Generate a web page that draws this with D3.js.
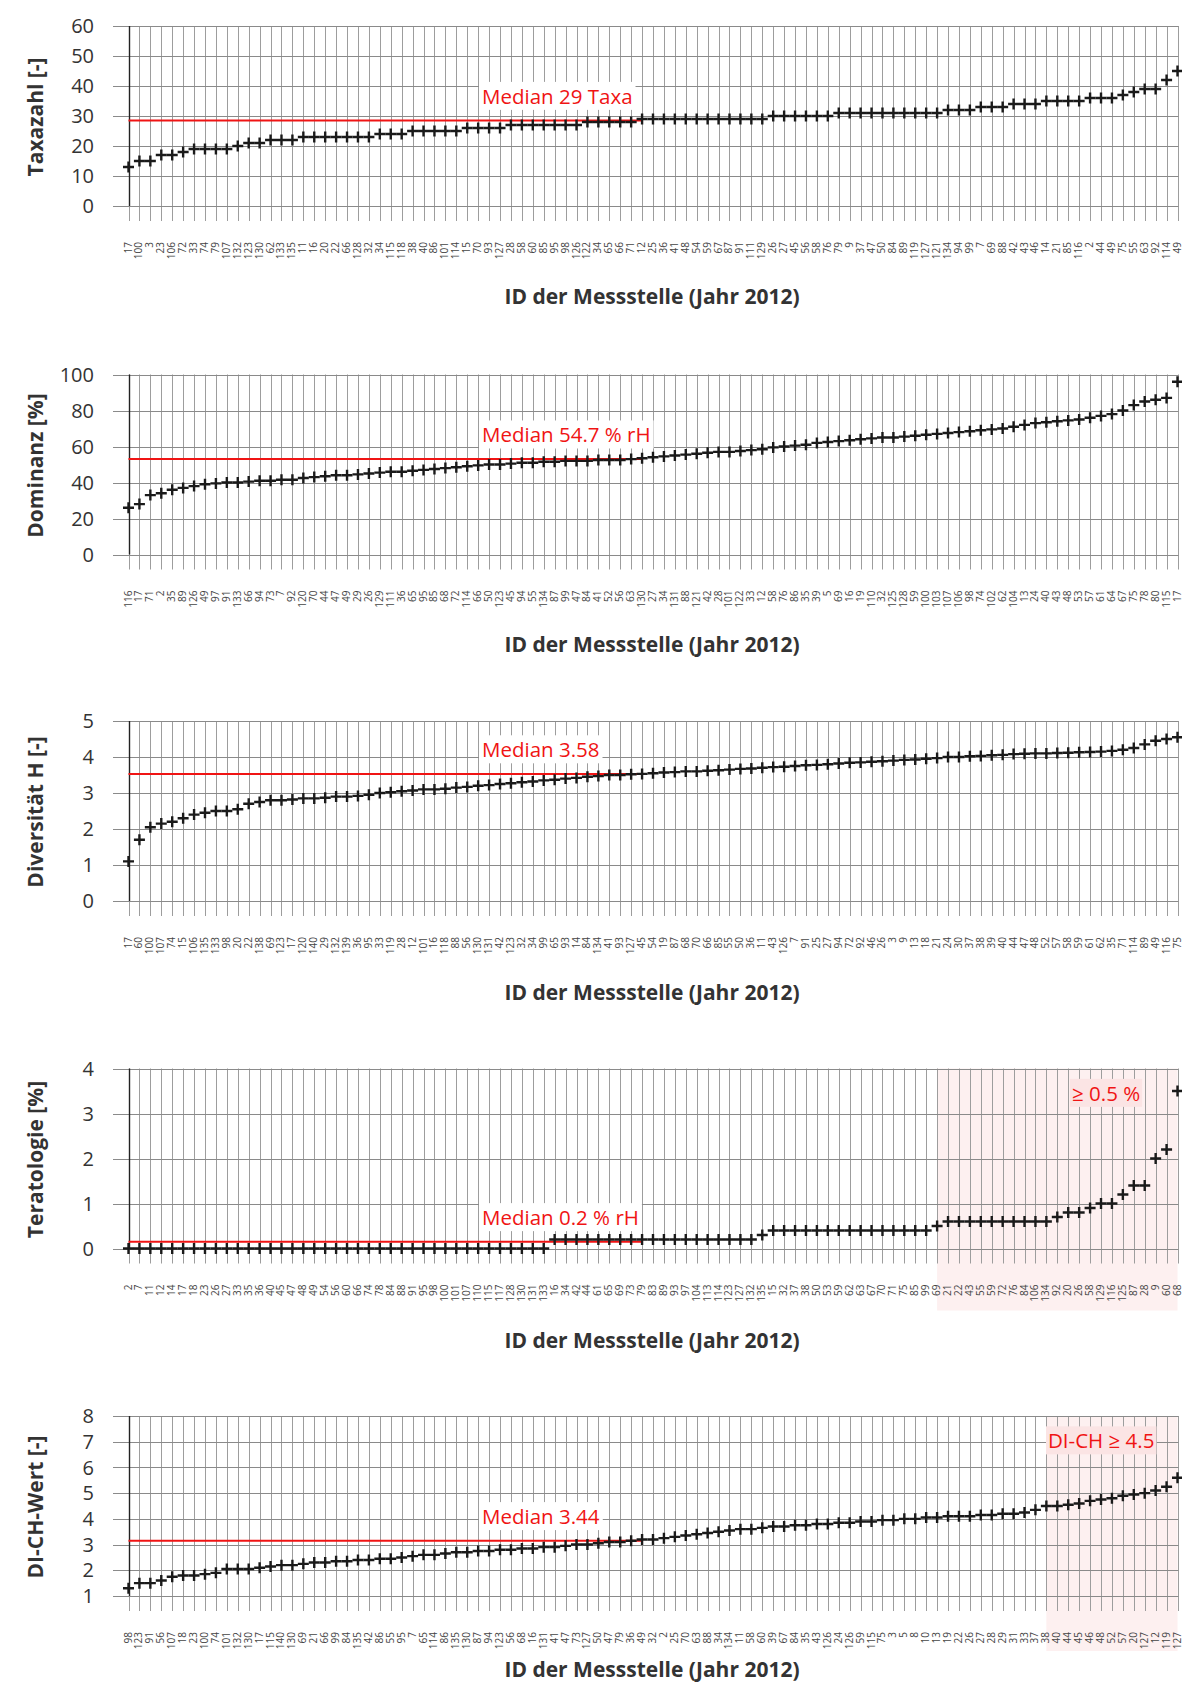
<!DOCTYPE html>
<html>
<head>
<meta charset="utf-8">
<script src="https://cdn.jsdelivr.net/npm/d3@7"></script>
<style>
  html, body { margin: 0; padding: 0; background: #fff; }
  svg { display: block; }
  text { font-family: "Open Sans", "Noto Sans", sans-serif; }
</style>
</head>
<body>
<svg id="chart" width="1182" height="1682"></svg>
<script>
// ---------------- DATA ----------------
const taxaLabels = [
  "17","100","3","23","106","72","33","74","79","107",
  "132","123","130","62","133","135","11","16","20","22",
  "66","128","32","34","115","118","38","40","86","101",
  "114","15","70","93","127","28","58","60","85","95",
  "98","126","122","34","65","66","71","12","25","36",
  "41","48","54","59","67","87","91","111","129","26",
  "27","45","56","58","76","79","9","37","47","50",
  "84","89","119","127","121","134","94","99","7","69",
  "88","42","43","46","14","21","85","116","2","44",
  "49","75","55","63","92","114","49"];
const taxaValues = [
  13,15,15,17,17,18,19,19,19,19,
  20,21,21,22,22,22,23,23,23,23,
  23,23,23,24,24,24,25,25,25,25,
  25,26,26,26,26,27,27,27,27,27,
  27,27,28,28,28,28,28,29,29,29,
  29,29,29,29,29,29,29,29,29,30,
  30,30,30,30,30,31,31,31,31,31,
  31,31,31,31,31,32,32,32,33,33,
  33,34,34,34,35,35,35,35,36,36,
  36,37,38,39,39,42,45];
const taxaTicks = [0,10,20,30,40,50,60];

const domLabels = [
  "116","17","71","2","35","89","126","49","97","91",
  "133","66","94","73","7","92","120","70","44","47",
  "49","29","26","129","111","36","65","95","85","68",
  "72","114","66","50","123","45","94","55","134","87",
  "99","47","84","41","52","56","63","130","27","34",
  "131","88","121","42","28","101","122","33","12","58",
  "76","86","35","39","5","69","16","19","110","32",
  "125","128","59","100","103","107","106","98","74","102",
  "62","104","13","24","40","43","48","53","57","61",
  "64","67","75","78","80","115","17"];
const domValues = [
  26,28,33,34,36,37,38,39,39.5,40,
  40,40.5,41,41,41.5,41.5,42.5,43,43.5,44,
  44,44.5,45,45.5,46,46,46.5,47,47.5,48,
  48.5,49,49.5,50,50,50.5,51,51,51.5,51.5,
  52,52,52,52.5,52.5,52.5,53,53.5,54,54.5,
  55,55.5,56,56.5,57,57,57.5,58,58.5,59.5,
  60,60.5,61,62,62.5,63,63.5,64,64.5,65,
  65,65.5,66,66.5,67,67.5,68,68.5,69,69.5,
  70,71,72,73,73.5,74,74.5,75,76,77,
  78,80,83,85,86,87,96];
const domTicks = [0,20,40,60,80,100];

const divLabels = [
  "17","60","100","107","74","15","106","135","133","98",
  "20","22","138","69","123","17","120","140","29","132",
  "139","36","95","33","119","28","12","101","16","118",
  "88","56","130","131","42","123","32","34","99","65",
  "93","14","84","134","41","93","127","45","54","19",
  "87","68","70","66","85","55","50","36","11","43",
  "126","7","91","25","27","94","72","92","46","26",
  "3","9","13","18","21","24","30","37","38","39",
  "40","44","47","48","52","57","58","59","61","62",
  "35","71","114","89","49","116","75"];
const divValues = [
  1.1,1.7,2.05,2.15,2.2,2.3,2.4,2.45,2.5,2.5,
  2.55,2.7,2.75,2.8,2.8,2.82,2.85,2.85,2.87,2.9,
  2.9,2.92,2.95,3.0,3.02,3.05,3.07,3.1,3.1,3.12,
  3.15,3.17,3.2,3.22,3.25,3.27,3.3,3.32,3.35,3.37,
  3.4,3.42,3.45,3.47,3.5,3.5,3.52,3.53,3.55,3.57,
  3.58,3.6,3.6,3.62,3.63,3.65,3.67,3.68,3.7,3.72,
  3.73,3.75,3.77,3.78,3.8,3.82,3.84,3.85,3.87,3.88,
  3.9,3.92,3.93,3.95,3.97,4.0,4.0,4.02,4.03,4.05,
  4.06,4.08,4.09,4.1,4.1,4.11,4.12,4.13,4.14,4.15,
  4.17,4.2,4.25,4.35,4.45,4.5,4.55];
const divTicks = [0,1,2,3,4,5];

const teraLabels = [
  "2","7","11","12","14","17","18","23","26","27",
  "33","35","36","40","45","47","48","49","54","56",
  "60","66","74","78","84","88","91","95","98","100",
  "101","107","110","115","117","128","130","131","133","16",
  "34","42","44","61","65","69","73","79","83","89",
  "93","97","104","113","114","123","127","132","135","15",
  "32","37","38","50","53","59","62","63","67","70",
  "71","75","85","99","69","21","22","43","55","59",
  "72","76","84","106","134","92","20","26","58","129",
  "116","125","87","28","9","60","68"];
const teraValues = [
  0,0,0,0,0,0,0,0,0,0,
  0,0,0,0,0,0,0,0,0,0,
  0,0,0,0,0,0,0,0,0,0,
  0,0,0,0,0,0,0,0,0,0.2,
  0.2,0.2,0.2,0.2,0.2,0.2,0.2,0.2,0.2,0.2,
  0.2,0.2,0.2,0.2,0.2,0.2,0.2,0.2,0.3,0.4,
  0.4,0.4,0.4,0.4,0.4,0.4,0.4,0.4,0.4,0.4,
  0.4,0.4,0.4,0.4,0.5,0.6,0.6,0.6,0.6,0.6,
  0.6,0.6,0.6,0.6,0.6,0.7,0.8,0.8,0.9,1.0,
  1.0,1.2,1.4,1.4,2.0,2.2,3.5];
const teraTicks = [0,1,2,3,4];

const dichLabels = [
  "98","123","91","56","107","18","23","100","74","101",
  "132","130","17","115","140","130","69","21","66","99",
  "84","135","42","86","55","95","7","65","114","86",
  "135","130","87","94","123","56","68","16","131","41",
  "47","73","127","50","47","79","36","49","32","2",
  "25","70","63","88","34","134","11","58","60","39",
  "67","84","35","43","126","24","126","59","115","75",
  "3","5","8","10","13","19","22","26","27","28",
  "29","31","33","37","38","40","44","45","46","48",
  "52","57","20","127","12","119","127"];
const dichValues = [
  1.3,1.5,1.5,1.6,1.75,1.8,1.8,1.85,1.9,2.05,
  2.05,2.05,2.1,2.15,2.2,2.2,2.25,2.3,2.3,2.35,
  2.35,2.4,2.4,2.45,2.45,2.5,2.55,2.6,2.6,2.65,
  2.7,2.7,2.75,2.75,2.8,2.8,2.85,2.85,2.9,2.9,
  2.95,3.0,3.0,3.05,3.1,3.1,3.15,3.2,3.2,3.25,
  3.3,3.35,3.4,3.45,3.5,3.55,3.6,3.6,3.65,3.7,
  3.7,3.75,3.75,3.8,3.8,3.85,3.85,3.9,3.9,3.95,
  3.95,4.0,4.0,4.05,4.05,4.1,4.1,4.1,4.15,4.15,
  4.2,4.2,4.25,4.35,4.5,4.5,4.55,4.6,4.7,4.75,
  4.8,4.9,4.95,5.0,5.1,5.25,5.6];
const dichTicks = [1,2,3,4,5,6,7,8];

const yTitles = ["Taxazahl [-]","Dominanz [%]","Diversität H [-]","Teratologie [%]","DI-CH-Wert [-]"];
const medianTexts = ["Median 29 Taxa","Median 54.7 % rH","Median 3.58","Median 0.2 % rH","Median 3.44"];
const medianLevels = [28.5, 53, 3.53, 0.15, 3.15];
const thresholds = [null, null, null, 0.5, 4.5];
const thresholdTexts = [null, null, null, "\u2265 0.5 %", "DI-CH \u2265 4.5"];
const xTitle = "ID der Messstelle (Jahr 2012)";

// ---------------- LAYOUT ----------------
const panels = [
  {labels: taxaLabels, values: taxaValues, ticks: taxaTicks, top: 26,   titleDy: 270},
  {labels: domLabels,  values: domValues,  ticks: domTicks,  top: 374.5, titleDy: 270},
  {labels: divLabels,  values: divValues,  ticks: divTicks,  top: 721,  titleDy: 271},
  {labels: teraLabels, values: teraValues, ticks: teraTicks, top: 1068.5, titleDy: 272, shadeBottom: 242, thrX: 1072},
  {labels: dichLabels, values: dichValues, ticks: dichTicks, top: 1416, titleDy: 253, shadeBottom: 235, thrX: 1048}
];

const svg = d3.select("#chart");
const X0 = 128.5, X1 = 1177.5, PH = 180;
const RED = "#f01414";

panels.forEach((p, k) => {
  const T = p.top;
  const n = p.values.length;
  const x = d3.scaleLinear().domain([0, n - 1]).range([X0, X1]);
  const y = d3.scaleLinear().domain(d3.extent(p.ticks)).range([T + PH, T]);
  const g = svg.append("g");

  // shaded threshold region
  if (thresholds[k] !== null) {
    const first = p.values.findIndex(v => v >= thresholds[k]);
    g.append("rect")
      .attr("x", x(first)).attr("y", T)
      .attr("width", x(n - 1) - x(first))
      .attr("height", p.shadeBottom)
      .attr("fill", "#fdf0f0");
  }

  // vertical grid lines
  g.append("g").selectAll("line").data(d3.range(n)).join("line")
    .attr("x1", i => Math.round(x(i)) + 0.5).attr("x2", i => Math.round(x(i)) + 0.5)
    .attr("y1", T).attr("y2", T + 195)
    .attr("stroke", "#9d9d9d").attr("stroke-width", 1);

  // horizontal grid lines
  g.append("g").selectAll("line").data(p.ticks).join("line")
    .attr("x1", 113).attr("x2", Math.round(x(n - 1)) + 0.5)
    .attr("y1", d => Math.round(y(d)) + 0.5).attr("y2", d => Math.round(y(d)) + 0.5)
    .attr("stroke", "#8a8a8a").attr("stroke-width", 1);

  // y axis line
  g.append("line")
    .attr("x1", Math.round(X0) + 0.5).attr("x2", Math.round(X0) + 0.5)
    .attr("y1", T).attr("y2", T + PH)
    .attr("stroke", "#222").attr("stroke-width", 1.4);

  // y tick labels
  g.append("g").selectAll("text").data(p.ticks).join("text")
    .attr("x", 94).attr("y", d => y(d)).attr("dy", "0.36em")
    .attr("text-anchor", "end")
    .attr("font-size", 20).attr("fill", "#333")
    .text(d => d);

  // y title
  g.append("text")
    .attr("transform", `translate(43,${T + 91}) rotate(-90)`)
    .attr("text-anchor", "middle")
    .attr("font-size", 21).attr("font-weight", "bold").attr("fill", "#333")
    .text(yTitles[k]);

  // category labels
  g.append("g").selectAll("text").data(p.labels).join("text")
    .attr("transform", (d, i) => `translate(${x(i)},${T + 216}) rotate(-90)`)
    .attr("text-anchor", "end").attr("dy", "0.3em")
    .attr("font-size", 10).attr("fill", "#444")
    .text(d => d);

  // x title
  g.append("text")
    .attr("x", 652).attr("y", T + p.titleDy).attr("dy", "0.36em")
    .attr("text-anchor", "middle")
    .attr("font-size", 21).attr("font-weight", "bold").attr("fill", "#333")
    .text(xTitle);

  // median line
  const my = y(medianLevels[k]);
  g.append("line")
    .attr("x1", X0).attr("x2", x(47))
    .attr("y1", my).attr("y2", my)
    .attr("stroke", RED).attr("stroke-width", 2);

  // median label with background
  const lab = g.append("g");
  const bg = lab.append("rect").attr("fill", "#fff");
  const t = lab.append("text")
    .attr("x", 482).attr("y", my - 24).attr("dy", "0.36em")
    .attr("font-size", 20.5).attr("fill", RED)
    .text(medianTexts[k]);
  const bb = t.node().getBBox();
  bg.attr("x", bb.x - 3).attr("y", bb.y).attr("width", bb.width + 6).attr("height", bb.height);

  // threshold label
  if (thresholdTexts[k]) {
    const lg = g.append("g");
    const bg2 = lg.append("rect").attr("fill", "#fbe4e4");
    const t2 = lg.append("text")
      .attr("x", p.thrX).attr("y", T + 25).attr("dy", "0.36em")
      .attr("font-size", 20.5).attr("fill", RED)
      .text(thresholdTexts[k]);
    const b2 = t2.node().getBBox();
    bg2.attr("x", b2.x - 2).attr("y", b2.y).attr("width", b2.width + 4).attr("height", b2.height);
  }

  // plus markers
  g.append("g").selectAll("path").data(p.values).join("path")
    .attr("transform", (d, i) => `translate(${x(i)},${y(d)})`)
    .attr("d", "M-5.5,0H5.5M0,-5.5V5.5")
    .attr("stroke", "#1a1a1a").attr("stroke-width", 2.4)
    .attr("fill", "none");
});
</script>
</body>
</html>
